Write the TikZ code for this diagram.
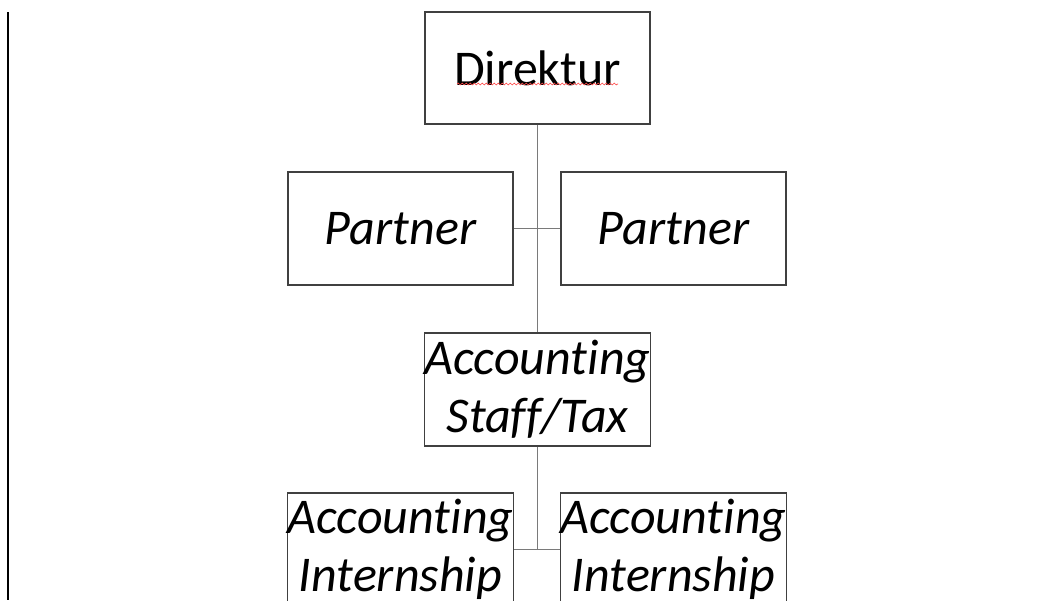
\documentclass[tikz,border=0pt]{standalone}
\usepackage{fontspec}
\setmainfont{Carlito}[RawFeature={-liga;-clig;-dlig}]
\usetikzlibrary{decorations.pathmorphing}
\definecolor{boxline}{HTML}{404040}
\definecolor{conn}{HTML}{7A7A7A}
\begin{document}
\begin{tikzpicture}[x=0.75pt,y=-0.75pt,
  orgbox/.style={draw=boxline,line width=0.8pt,fill=white,minimum width=225*0.75pt,minimum height=113*0.75pt,inner sep=0pt,align=center,font=\fontsize{37.5}{43.5}\selectfont},
  italbox/.style={orgbox,font=\fontsize{37.5}{43.5}\selectfont\itshape},
  link/.style={draw=conn,line width=1.3pt}]
\useasboundingbox (0,0) rectangle (1062,600);
\clip (0,0) rectangle (1062,600);
\fill[white] (0,0) rectangle (1062,600);
\draw[black,line width=0.8pt] (8,12) -- (8,600);
\node[orgbox,minimum height=112*0.75pt] (dir) at (537.5,68) {Direktur};
\node[italbox] (pl) at (400.5,228.5) {Partner};
\node[italbox] (pr) at (673.5,228.5) {Partner};
\node[italbox] (st) at (537.5,389.5) {Accounting\\Staff/Tax};
\node[italbox] (il) at (400.5,549.5) {Accounting\\Internship};
\node[italbox] (ir) at (673.5,549.5) {Accounting\\Internship};
\coordinate (jt) at (537.5,549.5);
\draw[link] (dir.south) -- (st.north);
\draw[link] (pl.east) -- (pr.west);
\draw[link] (st.south) -- (jt);
\draw[link] (il.east) -- (ir.west);
\draw[red!70,line width=0.5pt,decorate,decoration={snake,amplitude=0.7pt,segment length=3pt}] (457,84) -- (618,84);
\end{tikzpicture}
\end{document}
